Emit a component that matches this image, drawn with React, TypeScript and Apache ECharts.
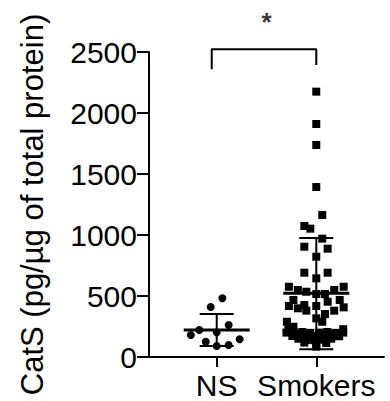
import React, { useEffect, useRef } from "react";
import * as echarts from "echarts";

const categories = ["NS", "Smokers"];
const categoryPositions = [1, 2];
const yTicks = [0, 500, 1000, 1500, 2000, 2500];

// NS group: values and horizontal jitter (category units)
const nsValues = [481, 410, 262, 221, 180, 202, 125, 90, 98, 145];
const nsJitter = [0.057, -0.06, 0.12, -0.175, -0.26, 0, -0.11, 0, 0.12, 0.23];

// Smokers group
const smokersValues = [
  2175, 1910, 1738, 1393, 1164, 1074, 1052, 970, 904, 888, 822, 691, 691, 645,
  576, 549, 535, 516, 516, 549, 576,
  467, 418, 399, 380, 426, 418, 453, 467, 407, 380,
  317, 352, 289, 289, 248,
  228, 228, 200, 200, 205, 198, 200, 205, 198, 200,
  172, 168, 175, 170, 168, 175, 170,
  140, 138, 142, 118, 115, 110, 85,
  185, 185, 185, 150, 150, 155,
];
const smokersJitter = [
  0, 0, 0, 0, 0.06, -0.12, -0.06, 0.06, -0.12, 0.114, 0, -0.12, 0.114, 0,
  -0.275, -0.185, -0.1, 0, 0.087, 0.18, 0.275,
  -0.23, -0.275, -0.185, -0.1, -0.12, 0, 0.114, 0.235, 0.275, 0.18,
  0, 0.087, 0.06, -0.295, -0.23,
  -0.28, 0.27, -0.3, -0.22, -0.14, -0.06, 0.03, 0.11, 0.19, 0.27,
  -0.24, -0.16, -0.08, 0, 0.08, 0.16, 0.23,
  -0.1, -0.02, 0.07, -0.12, 0.1, 0, 0,
  -0.2, 0.05, 0.2, -0.18, 0.15, -0.05,
];

// mean ± SD [lower, mean, upper]
const nsStats = [90, 221, 352];
const smokersStats = [63, 522, 975];

// significance bracket
const bracketLeft = [0.95, 2358];
const bracketTopY = 2522;
const bracketRight = [2, 2393];
const significance = "*";
const significancePos = [1.5, 2745];

const FONT = "'Liberation Sans', Arial, Helvetica, sans-serif";

export default function App() {
  const ref = useRef<HTMLDivElement>(null);
  useEffect(() => {
    if (!ref.current) return;
    const chart = echarts.init(ref.current, null, { renderer: "svg" });
    const nsData = nsValues.map((v, i) => [categoryPositions[0] + nsJitter[i], v]);
    const smData = smokersValues.map((v, i) => [categoryPositions[1] + smokersJitter[i], v]);
    const statsData = [
      [categoryPositions[0], ...nsStats],
      [categoryPositions[1], ...smokersStats],
    ];
    chart.setOption({
      animation: false,
      grid: { left: 149, right: 6, top: 52, bottom: 44, containLabel: false },
      xAxis: {
        type: "value",
        min: 0.32,
        max: 2.68,
        splitLine: { show: false },
        axisLine: { show: true, lineStyle: { color: "#000", width: 2 } },
        axisTick: {
          show: true,
          customValues: categoryPositions,
          length: 10,
          lineStyle: { color: "#000", width: 2 },
        },
        axisLabel: {
          customValues: categoryPositions,
          formatter: (v: number) => categories[categoryPositions.indexOf(Math.round(v))] ?? "",
          color: "#000",
          fontSize: 30,
          fontFamily: FONT,
          margin: 13,
        },
      },
      yAxis: {
        type: "value",
        min: 0,
        max: 2500,
        interval: 500,
        splitLine: { show: false },
        axisLine: { show: true, lineStyle: { color: "#000", width: 2 } },
        axisTick: { show: true, length: 12, lineStyle: { color: "#000", width: 2 } },
        axisLabel: {
          color: "#000",
          fontSize: 30,
          fontFamily: FONT,
          margin: 12,
          formatter: (v: number) => (yTicks.includes(v) ? String(v) : ""),
        },
        name: "CatS (pg/µg of total protein)",
        nameLocation: "middle",
        nameRotate: 90,
        nameGap: 101,
        nameTextStyle: { color: "#000", fontSize: 31, fontFamily: FONT },
      },
      series: [
        {
          type: "scatter",
          data: nsData,
          symbol: "circle",
          symbolSize: 8,
          itemStyle: { color: "#000", opacity: 1 },
          z: 2,
        },
        {
          type: "scatter",
          data: smData,
          symbol: "rect",
          symbolSize: 8,
          itemStyle: { color: "#000", opacity: 1 },
          z: 2,
        },
        {
          type: "custom",
          data: statsData,
          z: 3,
          renderItem: (params: any, api: any) => {
            const x = api.value(0);
            const pl = api.coord([x, api.value(1)]);
            const pm = api.coord([x, api.value(2)]);
            const ph = api.coord([x, api.value(3)]);
            const s = { stroke: "#000", lineWidth: 2 };
            return {
              type: "group",
              children: [
                { type: "line", shape: { x1: pm[0] - 33, y1: pm[1], x2: pm[0] + 33, y2: pm[1] }, style: { stroke: "#000", lineWidth: 3 } },
                { type: "line", shape: { x1: pm[0], y1: ph[1], x2: pm[0], y2: pl[1] }, style: s },
                { type: "line", shape: { x1: pm[0] - 17, y1: ph[1], x2: pm[0] + 17, y2: ph[1] }, style: s },
                { type: "line", shape: { x1: pm[0] - 17, y1: pl[1], x2: pm[0] + 17, y2: pl[1] }, style: s },
              ],
            };
          },
        },
        {
          type: "line",
          data: [bracketLeft, [bracketLeft[0], bracketTopY], [bracketRight[0], bracketTopY], bracketRight],
          symbol: "none",
          clip: false,
          lineStyle: { color: "#000", width: 2 },
          z: 3,
        },
        {
          type: "scatter",
          data: [significancePos],
          symbolSize: 1,
          clip: false,
          itemStyle: { color: "rgba(0,0,0,0)" },
          label: {
            show: true,
            position: "inside",
            formatter: significance,
            fontSize: 26,
            fontWeight: "bold",
            color: "#000",
            fontFamily: FONT,
          },
        },
      ],
    });
    return () => chart.dispose();
  }, []);
  return (
    <div
      ref={ref}
      style={{ position: "fixed", left: 0, top: 0, width: 390, height: 401, background: "#fff" }}
    />
  );
}
